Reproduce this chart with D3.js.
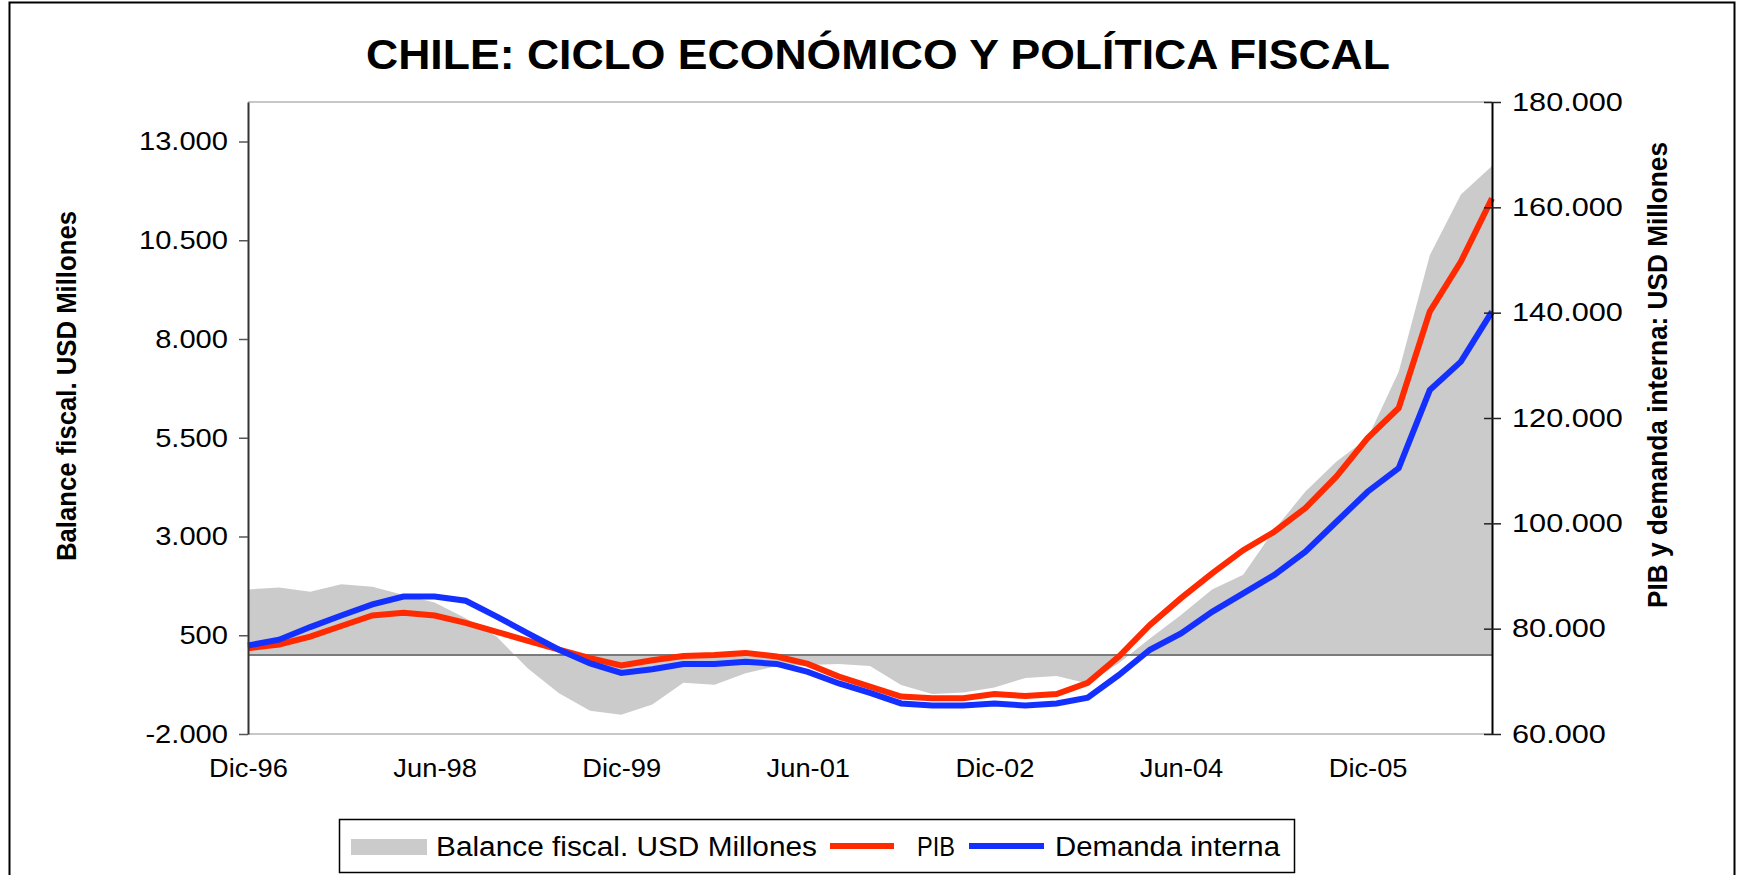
<!DOCTYPE html>
<html>
<head>
<meta charset="utf-8">
<script src="https://cdn.jsdelivr.net/npm/d3@7"></script>
<style>
  body { margin: 0; background: #fff; }
  text { font-family: "Liberation Sans", Arial, sans-serif; }
</style>
</head>
<body>
<svg id="chart" width="1741" height="875"></svg>
<script>
// trimestres Dic-96 .. Dic-06
const quarters = [
  "Dic-96","Mar-97","Jun-97","Sep-97","Dic-97","Mar-98","Jun-98","Sep-98","Dic-98",
  "Mar-99","Jun-99","Sep-99","Dic-99","Mar-00","Jun-00","Sep-00","Dic-00",
  "Mar-01","Jun-01","Sep-01","Dic-01","Mar-02","Jun-02","Sep-02","Dic-02",
  "Mar-03","Jun-03","Sep-03","Dic-03","Mar-04","Jun-04","Sep-04","Dic-04",
  "Mar-05","Jun-05","Sep-05","Dic-05","Mar-06","Jun-06","Sep-06","Dic-06"
];
const xLabels = ["Dic-96","Jun-98","Dic-99","Jun-01","Dic-02","Jun-04","Dic-05"];

const balance = [
  1660, 1710, 1600, 1790, 1730, 1520, 1330, 930, 460,
  -340, -970, -1410, -1510, -1250, -700, -750, -460,
  -280, -250, -230, -280, -760, -990, -950, -820,
  -580, -530, -720, -210, 420, 1010, 1660, 2030,
  3170, 4140, 4900, 5490, 7170, 10120, 11660, 12380
];
const pib = [
  76300, 77000, 78500, 80500, 82500, 83000, 82500, 81100, 79400,
  77700, 76000, 74400, 73000, 74000, 74800, 75000, 75400,
  74700, 73300, 70900, 69000, 67100, 66800, 66800, 67600,
  67200, 67600, 69700, 74700, 80700, 85800, 90500, 94900,
  98400, 102900, 108900, 116200, 121900, 140200, 149700, 161700
];
const demanda = [
  76800, 77900, 80300, 82500, 84600, 86100, 86100, 85300, 82300,
  79100, 76000, 73400, 71600, 72300, 73300, 73300, 73700,
  73300, 71800, 69600, 67800, 65800, 65400, 65400, 65800,
  65400, 65800, 66900, 71200, 76000, 79100, 83200, 86700,
  90200, 94600, 100300, 106000, 110500, 125300, 130700, 140200
];
const leftTicks = [-2000, 500, 3000, 5500, 8000, 10500, 13000];
const rightTicks = [60000, 80000, 100000, 120000, 140000, 160000, 180000];

const svg = d3.select("#chart");
const plot = { left: 248, right: 1492, top: 102, bottom: 734 };

const es = d3.formatLocale({ decimal: ",", thousands: ".", grouping: [3], currency: ["$", ""], minus: "-" });
const fmt = es.format(",d");

const x = d3.scalePoint().domain(quarters).range([plot.left, plot.right]);
const yL = d3.scaleLinear().domain([-2000, 14000]).range([plot.bottom, plot.top]);
const yR = d3.scaleLinear().domain([60000, 180000]).range([plot.bottom, plot.top]);

// stretch text horizontally like the Excel export
function stretch(sel, k) {
  sel.each(function() {
    const len = this.getComputedTextLength();
    d3.select(this).attr("textLength", len * k).attr("lengthAdjust", "spacingAndGlyphs");
  });
}
function fitTo(sel, w) {
  sel.attr("textLength", w).attr("lengthAdjust", "spacingAndGlyphs");
}

// outer frame
svg.append("rect")
  .attr("x", 9.5).attr("y", 2.5).attr("width", 1725).attr("height", 900)
  .attr("fill", "none").attr("stroke", "#000").attr("stroke-width", 2);

// title
svg.append("text")
  .attr("x", 878).attr("y", 69)
  .attr("text-anchor", "middle")
  .style("font-size", "42px").style("font-weight", "bold")
  .text("CHILE: CICLO ECONÓMICO Y POLÍTICA FISCAL")
  .call(fitTo, 1024);

// plot borders top / bottom
svg.append("line")
  .attr("x1", plot.left).attr("x2", plot.right).attr("y1", plot.top).attr("y2", plot.top)
  .attr("stroke", "#b4b4b4").attr("stroke-width", 1.5);
svg.append("line")
  .attr("x1", plot.left).attr("x2", plot.right).attr("y1", plot.bottom).attr("y2", plot.bottom)
  .attr("stroke", "#b4b4b4").attr("stroke-width", 1.5);

// balance area
const area = d3.area()
  .x((d, i) => x(quarters[i]))
  .y0(yL(0))
  .y1(d => yL(d));
svg.append("path")
  .datum(balance)
  .attr("fill", "#cbcbcb")
  .attr("d", area);

// category axis line at zero
svg.append("line")
  .attr("x1", plot.left).attr("x2", plot.right).attr("y1", yL(0)).attr("y2", yL(0))
  .attr("stroke", "#7a7a7a").attr("stroke-width", 1.8);

// lines
const lineR = d3.line()
  .x((d, i) => x(quarters[i]))
  .y(d => yR(d));
svg.append("path")
  .datum(pib)
  .attr("fill", "none").attr("stroke", "#ff2a00").attr("stroke-width", 6)
  .attr("stroke-linejoin", "miter")
  .attr("d", lineR);
svg.append("path")
  .datum(demanda)
  .attr("fill", "none").attr("stroke", "#1430ff").attr("stroke-width", 6)
  .attr("stroke-linejoin", "miter")
  .attr("d", lineR);

// left axis
const gL = svg.append("g")
  .attr("transform", `translate(${plot.left},0)`)
  .call(d3.axisLeft(yL).tickValues(leftTicks).tickFormat(fmt).tickSizeInner(9).tickSizeOuter(0).tickPadding(11));
gL.select(".domain").attr("stroke", "#333").attr("stroke-width", 2);
gL.selectAll(".tick line").attr("stroke", "#555").attr("stroke-width", 1.5);
gL.selectAll(".tick text")
  .attr("fill", "#000").style("font-size", "26px").attr("font-family", null)
  .call(stretch, 1.12);

// right axis
const gR = svg.append("g")
  .attr("transform", `translate(${plot.right},0)`)
  .call(d3.axisRight(yR).tickValues(rightTicks).tickFormat(fmt).tickSizeInner(9).tickSizeOuter(0).tickPadding(11));
gR.select(".domain").attr("stroke", "#000").attr("stroke-width", 2);
gR.selectAll(".tick line").attr("x1", -8).attr("stroke", "#222").attr("stroke-width", 1.5);
gR.selectAll(".tick text")
  .attr("fill", "#000").style("font-size", "26px").attr("font-family", null)
  .call(stretch, 1.18);

// bottom labels
const gX = svg.append("g")
  .attr("transform", `translate(0,${plot.bottom})`)
  .call(d3.axisBottom(x).tickValues(xLabels).tickSize(0).tickPadding(25));
gX.select(".domain").remove();
gX.selectAll(".tick text")
  .attr("fill", "#000").style("font-size", "26px").attr("font-family", null)
  .call(stretch, 1.05);

// axis titles
svg.append("text")
  .attr("transform", "translate(76,386) rotate(-90)")
  .attr("text-anchor", "middle")
  .style("font-size", "28px").style("font-weight", "bold")
  .text("Balance fiscal. USD Millones")
  .call(fitTo, 350);
svg.append("text")
  .attr("transform", "translate(1667,375) rotate(-90)")
  .attr("text-anchor", "middle")
  .style("font-size", "28px").style("font-weight", "bold")
  .text("PIB y demanda interna: USD Millones")
  .call(fitTo, 466);

// legend
const legend = svg.append("g");
legend.append("rect")
  .attr("x", 339.5).attr("y", 819.5).attr("width", 955).attr("height", 53)
  .attr("fill", "#fff").attr("stroke", "#000").attr("stroke-width", 1.5);
legend.append("rect")
  .attr("x", 351).attr("y", 839).attr("width", 76).attr("height", 16)
  .attr("fill", "#cbcbcb");
legend.append("text").attr("x", 436).attr("y", 856)
  .style("font-size", "27px").text("Balance fiscal. USD Millones").call(fitTo, 381);
legend.append("line")
  .attr("x1", 830).attr("x2", 894).attr("y1", 846).attr("y2", 846)
  .attr("stroke", "#ff2a00").attr("stroke-width", 6);
legend.append("text").attr("x", 917).attr("y", 856)
  .style("font-size", "27px").text("PIB").call(fitTo, 38);
legend.append("line")
  .attr("x1", 969).attr("x2", 1044).attr("y1", 846).attr("y2", 846)
  .attr("stroke", "#1430ff").attr("stroke-width", 6);
legend.append("text").attr("x", 1055).attr("y", 856)
  .style("font-size", "27px").text("Demanda interna").call(fitTo, 225);
</script>
</body>
</html>
